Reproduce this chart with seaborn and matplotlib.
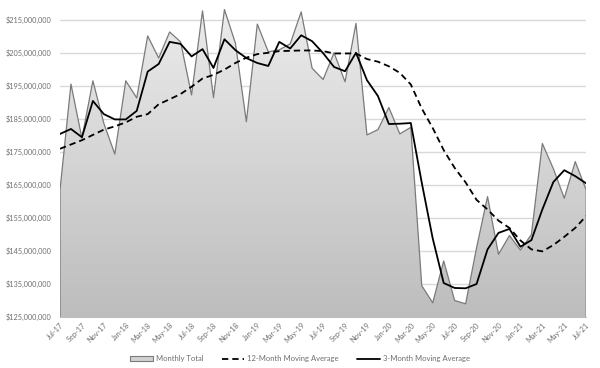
import numpy as np
import pandas as pd
import matplotlib
matplotlib.use('Agg')
import matplotlib.pyplot as plt
import seaborn as sns
from matplotlib.colors import LinearSegmentedColormap
from matplotlib.patches import Patch
from matplotlib.lines import Line2D

# -------------------------------
# DATA (values in $ millions)
# -------------------------------
months = pd.date_range('2017-07-01', periods=49, freq='MS').strftime('%b-%y').tolist()

monthly_total = [163.5, 195.6, 179.2, 196.6, 183.7, 174.4, 196.6, 191.4, 210.2, 203.5,
                 211.4, 208.4, 192.3, 217.8, 191.5, 218.2, 208.0, 184.2, 213.8, 205.4,
                 206.0, 207.8, 217.5, 200.4, 197.0, 205.1, 196.3, 214.0, 180.2, 181.8,
                 188.5, 180.5, 182.5, 134.5, 129.3, 142.0, 130.0, 129.0, 146.0, 161.5,
                 144.0, 149.7, 145.3, 150.0, 177.6, 170.0, 161.0, 172.1, 163.5]

ma_12 = [176.0, 177.3, 178.6, 180.2, 181.8, 182.8, 184.0, 185.7, 186.5, 189.5,
         191.0, 192.6, 194.8, 197.3, 198.4, 200.0, 202.0, 203.6, 204.7, 205.1,
         205.6, 205.7, 205.8, 205.8, 205.6, 204.9, 204.9, 204.9, 203.2, 202.4,
         201.0, 199.0, 195.5, 188.2, 182.3, 175.6, 170.2, 165.8, 160.5, 157.6,
         154.2, 152.0, 148.2, 145.5, 144.9, 146.8, 149.3, 152.0, 155.6]

ma_3 = [180.5, 182.0, 179.5, 190.5, 186.5, 184.9, 184.9, 187.5, 199.4, 201.7,
        208.4, 207.8, 204.0, 206.2, 200.5, 209.2, 205.9, 203.5, 202.0, 201.1,
        208.4, 206.4, 210.4, 208.6, 205.0, 200.8, 199.5, 205.1, 196.8, 192.0,
        183.5, 183.6, 183.8, 165.7, 148.8, 135.3, 133.8, 133.7, 135.0, 145.5,
        150.5, 151.7, 146.3, 148.3, 157.6, 165.9, 169.5, 167.7, 165.5]

y_ticks = list(range(125, 216, 10))

df = pd.DataFrame({'idx': range(len(months)), 'month': months,
                   'total': monthly_total, 'ma12': ma_12, 'ma3': ma_3})

TEXT = '#6e6e6e'
sns.set_theme(style='white')
plt.rcParams['font.family'] = ['Lato', 'DejaVu Sans']

fig = plt.figure(figsize=(6, 3.68), dpi=100)
ax = fig.add_axes([0.1, 0.1386, 0.877, 0.8614])

ymin, ymax = 125, 221.1
xmax = len(months) - 1

# area with vertical gradient, clipped to the monthly-total polygon
poly = ax.fill_between(df['idx'], df['total'], ymin, facecolor='none', edgecolor='none')
grad = np.linspace(0, 1, 256).reshape(-1, 1)
cmap = LinearSegmentedColormap.from_list('g', ['#bdbdbd', '#ededed'])
im = ax.imshow(grad, extent=[0, xmax, ymin, ymax], origin='lower', cmap=cmap,
               aspect='auto', zorder=1, interpolation='bilinear')
im.set_clip_path(poly.get_paths()[0], transform=ax.transData)

# area outline
ox = [0] + df['idx'].tolist() + [xmax]
oy = [ymin] + df['total'].tolist() + [ymin]
ax.plot(ox, oy, color='#7a7a7a', lw=0.9, zorder=2)

sns.lineplot(data=df, x='idx', y='ma12', ax=ax, color='black', lw=1.3,
             linestyle=(0, (3.5, 2.2)), zorder=3)
sns.lineplot(data=df, x='idx', y='ma3', ax=ax, color='black', lw=1.3, zorder=4)

ax.set_xlim(0, xmax)
ax.set_ylim(ymin, ymax)
ax.set_yticks(y_ticks)
ax.set_yticklabels([f"${v * 1_000_000:,}" for v in y_ticks], fontsize=5.3, color=TEXT)
ax.set_xticks(df['idx'][::2])
ax.set_xticklabels(df['month'][::2], rotation=45, ha='right', rotation_mode='anchor',
                   fontsize=5.3, color=TEXT)
ax.tick_params(axis='both', length=0)
ax.tick_params(axis='y', pad=6)
ax.tick_params(axis='x', pad=3)
ax.set_xlabel('')
ax.set_ylabel('')
ax.grid(axis='y', color='#d9d9d9', lw=1)
ax.grid(axis='x', visible=False)
ax.set_axisbelow(True)
for s in ['top', 'right', 'left']:
    ax.spines[s].set_visible(False)
ax.spines['bottom'].set_color('#bfbfbf')
ax.spines['bottom'].set_linewidth(0.8)

handles = [Patch(facecolor='#d2d2d2', edgecolor='#7a7a7a', lw=0.8),
           Line2D([], [], color='black', lw=1.3, linestyle=(0, (3.5, 2.2))),
           Line2D([], [], color='black', lw=1.3)]
labels = ['Monthly Total', '12-Month Moving Average', '3-Month Moving Average']
leg = fig.legend(handles, labels, loc='center', bbox_to_anchor=(0.5, 0.025), ncol=3,
                 frameon=False, fontsize=5.5, handlelength=3.0, handleheight=0.6,
                 handletextpad=0.4, columnspacing=2.4)
for t in leg.get_texts():
    t.set_color(TEXT)

plt.savefig('out.png', dpi=100)
plt.close()
